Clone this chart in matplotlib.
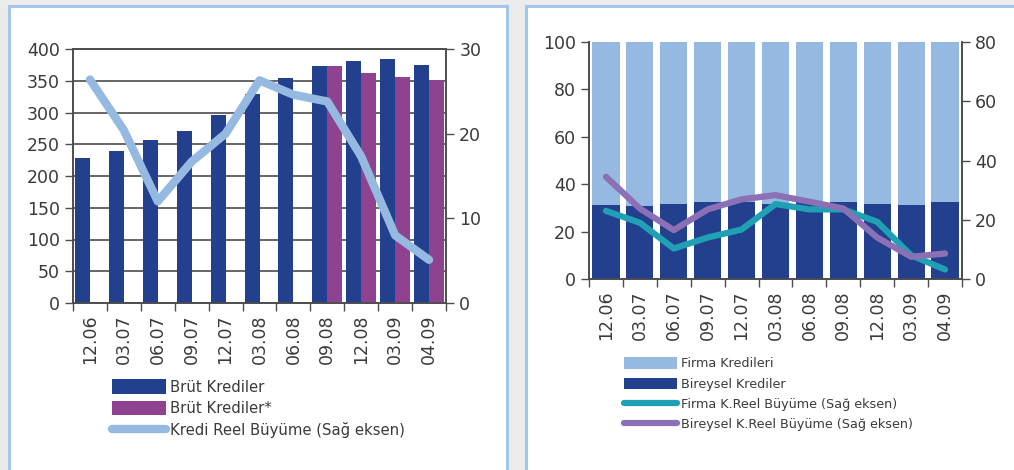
import numpy as np
import matplotlib
matplotlib.use('Agg')
import matplotlib.pyplot as plt
from matplotlib.patches import Rectangle, Patch
from matplotlib.lines import Line2D

# dönemler
donemler = ['12.06', '03.07', '06.07', '09.07', '12.07', '03.08',
            '06.08', '09.08', '12.08', '03.09', '04.09']

# sol grafik: brüt krediler (milyar TL) ve reel büyüme (%)
brut_krediler = [228, 239, 257, 271, 296, 329, 354, 373, 381, 384, 375]
brut_krediler_yildiz = [None, None, None, None, None, None, None, 373, 362, 356, 351]
kredi_reel_buyume = [26.4, 20.4, 12.0, 16.7, 20.0, 26.3, 24.6, 23.8, 17.3, 8.0, 5.1]

# sağ grafik: kredi dağılımı (%) ve reel büyüme (%)
bireysel_pay = [31.3, 30.8, 31.6, 32.5, 32.5, 31.6, 32.5, 32.5, 31.6, 31.3, 32.5]
firma_pay = [100 - v for v in bireysel_pay]
firma_reel = [23.0, 19.0, 10.3, 14.0, 16.7, 25.3, 23.5, 23.5, 19.3, 8.0, 3.2]
bireysel_reel = [34.5, 23.8, 16.5, 23.5, 26.9, 28.3, 26.1, 23.8, 14.0, 7.5, 8.6]

KOYU_MAVI = '#23408e'
MOR = '#8e4290'
ACIK_MAVI = '#95b9e1'
TURKUAZ = '#1fa0b5'
LILA = '#8b70b5'
YAZI = '#3a3a3a'
CIZGI = '#4d4d4d'

plt.rcParams['font.family'] = ['DejaVu Sans']
plt.rcParams['font.size'] = 11

W, H = 1014, 470
fig = plt.figure(figsize=(W / 100, H / 100), dpi=100, facecolor='#ebebeb')


def px_rect(x0, y0, x1, y1):
    # piksel koordinatlarından figür kesri
    return [x0 / W, 1 - y1 / H, (x1 - x0) / W, (y1 - y0) / H]


# panel arka planları
for x0, x1 in [(9, 507), (526, 1020)]:
    fig.patches.append(Rectangle((x0 / W, -0.05), (x1 - x0) / W, 1 - 6 / H + 0.05,
                                 transform=fig.transFigure, facecolor='white',
                                 edgecolor='#a4c6ea', linewidth=2.2, zorder=-10))

x = np.arange(len(donemler))


def eksen_bicimi(ax, ax2):
    for a in (ax, ax2):
        a.tick_params(colors=CIZGI, labelcolor=YAZI, labelsize=12.5,
                      length=6, width=1, direction='out')
        for s in a.spines.values():
            s.set_color(CIZGI)
            s.set_linewidth(1.2)
    ax.set_xticks(np.arange(-0.5, len(donemler), 1.0))
    ax.set_xticklabels([])
    ax.set_xticks(x, minor=True)
    ax.set_xticklabels(donemler, minor=True, rotation=90)
    ax.tick_params(axis='x', which='minor', length=0, pad=8, labelsize=12.5, labelcolor=YAZI)
    ax.set_xlim(-0.5, len(donemler) - 0.5)


# ---- sol grafik ----
ax1 = fig.add_axes(px_rect(73, 49, 446, 303), zorder=1)
ax1b = ax1.twinx()
ax1b.set_zorder(2)
ax1b.patch.set_visible(False)
ax1.patch.set_visible(False)

bw = 0.44
ax1.bar(x - bw / 2, brut_krediler, width=bw, color=KOYU_MAVI, zorder=3)
yx = [i for i, v in enumerate(brut_krediler_yildiz) if v is not None]
yv = [brut_krediler_yildiz[i] for i in yx]
ax1.bar(np.array(yx) + bw / 2, yv, width=bw, color=MOR, zorder=3)
ax1.set_ylim(0, 400)
ax1.set_yticks(range(0, 401, 50))
ax1.yaxis.grid(True, color=CIZGI, linewidth=1.2, zorder=0)
ax1.set_axisbelow(True)

ax1b.plot(x, kredi_reel_buyume, color=ACIK_MAVI, linewidth=6, solid_capstyle='round',
          solid_joinstyle='round')
ax1b.set_ylim(0, 30)
ax1b.set_yticks(range(0, 31, 10))
eksen_bicimi(ax1, ax1b)

leg1 = [Patch(facecolor=KOYU_MAVI, label='Brüt Krediler'),
        Patch(facecolor=MOR, label='Brüt Krediler*'),
        Line2D([], [], color=ACIK_MAVI, linewidth=6, solid_capstyle='round',
               label='Kredi Reel Büyüme (Sağ eksen)')]
fig.legend(handles=leg1, loc='upper left', bbox_to_anchor=(105 / W, 1 - 372 / H),
           frameon=False, fontsize=10.7, handlelength=3.6, handleheight=1.1,
           handletextpad=0.25, labelspacing=0.42, borderpad=0, labelcolor=YAZI)

# ---- sağ grafik ----
ax2 = fig.add_axes(px_rect(589, 42, 962, 279), zorder=1)
ax2b = ax2.twinx()
ax2b.set_zorder(2)
ax2b.patch.set_visible(False)
ax2.patch.set_visible(False)

ax2.bar(x, bireysel_pay, width=0.8, color=KOYU_MAVI, zorder=3)
ax2.bar(x, firma_pay, width=0.8, bottom=bireysel_pay, color=ACIK_MAVI, zorder=3)
ax2.set_ylim(0, 100)
ax2.set_yticks(range(0, 101, 20))
ax2.spines['top'].set_visible(False)
ax2b.spines['top'].set_visible(False)

ax2b.plot(x, firma_reel, color=TURKUAZ, linewidth=4.5, solid_capstyle='round',
          solid_joinstyle='round')
ax2b.plot(x, bireysel_reel, color=LILA, linewidth=4.5, solid_capstyle='round',
          solid_joinstyle='round')
ax2b.set_ylim(0, 80)
ax2b.set_yticks(range(0, 81, 20))
eksen_bicimi(ax2, ax2b)

leg2 = [Patch(facecolor=ACIK_MAVI, label='Firma Kredileri'),
        Patch(facecolor=KOYU_MAVI, label='Bireysel Krediler'),
        Line2D([], [], color=TURKUAZ, linewidth=4.5, solid_capstyle='round',
               label='Firma K.Reel Büyüme (Sağ eksen)'),
        Line2D([], [], color=LILA, linewidth=4.5, solid_capstyle='round',
               label='Bireysel K.Reel Büyüme (Sağ eksen)')]
fig.legend(handles=leg2, loc='upper left', bbox_to_anchor=(618 / W, 1 - 351 / H),
           frameon=False, fontsize=9.2, handlelength=4.1, handleheight=1.0,
           handletextpad=0.3, labelspacing=0.55, borderpad=0, labelcolor=YAZI)

fig.savefig('out.png', dpi=100, facecolor=fig.get_facecolor())
